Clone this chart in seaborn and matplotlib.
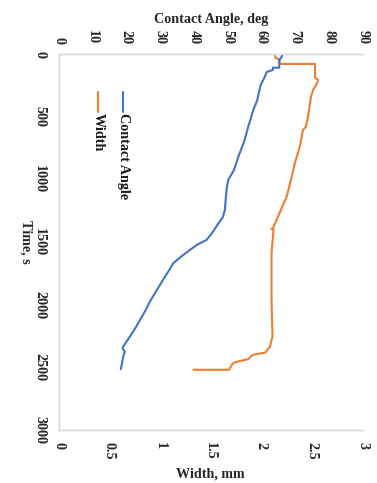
import matplotlib
matplotlib.use("Agg")
import matplotlib.pyplot as plt
import seaborn as sns
import pandas as pd
from matplotlib.lines import Line2D

# Contact angle trace (time in s, angle in degrees)
angle_time = [0, 20, 45, 107, 107, 125, 141, 192, 245, 325, 365, 444, 510, 578, 650,
              710, 817, 923, 1003, 1060, 1136, 1242, 1300, 1349, 1420, 1482, 1520,
              1561, 1610, 1668, 1720, 1774, 1840, 1907, 1974, 2050, 2120, 2190, 2253,
              2333, 2350, 2373, 2413, 2514]
angle_deg = [66.3, 66.0, 65.3, 65.3, 63.4, 63.4, 61.6, 60.8, 59.8, 59.1, 58.8, 57.6,
             56.9, 56.1, 55.4, 54.7, 53.2, 51.9, 50.2, 49.8, 49.5, 49.2, 48.6, 47.3,
             45.6, 43.8, 41.0, 38.9, 36.5, 33.9, 32.8, 31.5, 30.0, 28.5, 27.0, 25.6,
             24.1, 22.6, 21.1, 19.1, 18.9, 19.6, 19.1, 18.4]

# Drop width trace (time in s, width in mm)
width_time = [0, 27, 45, 77, 77, 187, 205, 245, 285, 338, 498, 578, 604, 737, 870,
              977, 1136, 1322, 1380, 1395, 1402, 1588, 1960, 2253, 2333, 2381, 2400,
              2434, 2453, 2466, 2505, 2519, 2519]
width_mm = [2.13, 2.14, 2.18, 2.18, 2.53, 2.53, 2.56, 2.54, 2.51, 2.49, 2.46, 2.44,
            2.41, 2.38, 2.33, 2.30, 2.25, 2.15, 2.12, 2.10, 2.12, 2.10, 2.10, 2.11,
            2.085, 2.04, 1.915, 1.87, 1.77, 1.72, 1.69, 1.68, 1.33]

angle_ticks = list(range(0, 91, 10))
width_ticks = [0, 0.5, 1, 1.5, 2, 2.5, 3]
width_labels = ["0", "0.5", "1", "1.5", "2", "2.5", "3"]
time_ticks = list(range(0, 3001, 500))

sns.set_theme(style="white")
plt.rcParams["font.family"] = ["Liberation Serif", "DejaVu Serif"]
plt.rcParams["font.weight"] = "bold"

BLUE = "#4472C4"
ORANGE = "#ED7D31"
GRID = "#d9d9d9"
FS = 10.2
LW = 1.5

fig = plt.figure(figsize=(3.77, 4.83), dpi=100)
ax = fig.add_axes([58.7 / 377, 1 - 430 / 483, (362.7 - 58.7) / 377, (430 - 54.3) / 483])
ax2 = ax.twiny()

df_w = pd.DataFrame({"time": width_time, "width": width_mm})
df_a = pd.DataFrame({"time": angle_time, "angle": angle_deg})

sns.lineplot(data=df_w, x="width", y="time", sort=False, estimator=None,
             color=ORANGE, linewidth=LW, ax=ax)
sns.lineplot(data=df_a, x="angle", y="time", sort=False, estimator=None,
             color=BLUE, linewidth=LW, ax=ax2)

ax.set_xlim(0, 3)
ax2.set_xlim(0, 90)
ax.set_ylim(3000, 0)

ax.set_xticks(width_ticks)
ax.set_xticklabels(width_labels, rotation=-90, fontsize=FS, fontweight="bold")
ax.set_yticks(time_ticks)
ax.set_yticklabels([str(t) for t in time_ticks], rotation=-90, fontsize=FS,
                   fontweight="bold", va="center")
ax2.set_xticks(angle_ticks)
ax2.set_xticklabels([str(a) for a in angle_ticks], rotation=-90, fontsize=FS,
                    fontweight="bold")

ax.tick_params(axis="x", length=0, pad=9)
ax.tick_params(axis="y", length=0, pad=9)
ax2.tick_params(axis="x", length=0, pad=7.5)

for a in (ax, ax2):
    a.set_facecolor("none")
    for side in ("top", "bottom", "left"):
        a.spines[side].set_color(GRID)
        a.spines[side].set_linewidth(1.0)
    a.spines["right"].set_visible(False)

ax.set_xlabel("Width, mm", fontsize=FS, fontweight="bold", labelpad=5)
ax.set_ylabel("Time, s", fontsize=FS, fontweight="bold", rotation=-90, labelpad=10)
ax2.set_xlabel("Contact Angle, deg", fontsize=FS, fontweight="bold", labelpad=5)

# Legend drawn as vertical keys with rotated labels
for xk, color, label in [(123, BLUE, "Contact Angle"), (98, ORANGE, "Width")]:
    xf = xk / 377
    fig.add_artist(Line2D([xf, xf], [1 - 92 / 483, 1 - 112 / 483],
                          transform=fig.transFigure, color=color, linewidth=LW))
    fig.text(xf, 1 - 113 / 483, label, rotation=-90, ha="center", va="top",
             fontsize=FS, fontweight="bold", color="#1a1a1a")

fig.savefig("out.png", dpi=100, facecolor="white")
